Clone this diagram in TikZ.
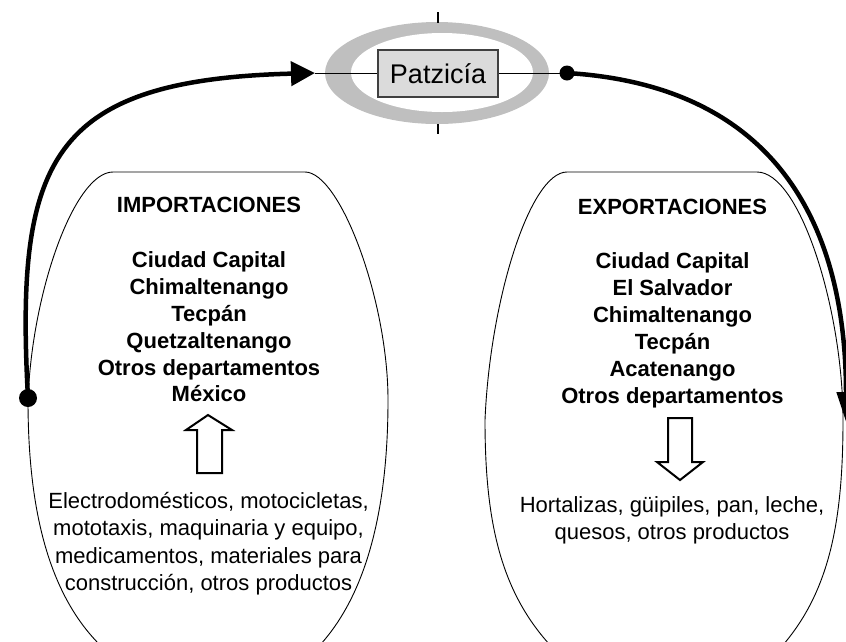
\documentclass[tikz,border=0pt]{standalone}
\usepackage{fontspec}
\setmainfont{Liberation Sans}
\usetikzlibrary{arrows.meta,shapes.geometric}
\begin{document}
\begin{tikzpicture}[x=1pt,y=-1pt,
  outline/.style={draw=black,line width=0.9pt},
  bold22/.style={font=\fontsize{22}{27}\selectfont\bfseries,anchor=base,inner sep=0pt},
  reg22/.style={font=\fontsize{22}{27}\selectfont,anchor=base,inner sep=0pt},
  thickarc/.style={line width=4.5pt,draw=black},
  hollow/.style={draw=black,line width=2pt,fill=white,line join=miter},
  dot/.style={circle,fill=black,inner sep=0pt}]
\useasboundingbox (0,0) rectangle (846,641);
% shapes
\draw[outline,fill=white] (113,172) -- (305,172)
  .. controls (340,172) and (388,300) .. (388,400)
  .. controls (388,500) and (370,590) .. (320,645)
  -- (100,645)
  .. controls (45,590) and (28,500) .. (28,400)
  .. controls (32,290) and (75,172) .. (113,172) -- cycle;
\draw[outline,fill=white] (567,172) -- (757,172)
  .. controls (800,172) and (843,310) .. (843,420)
  .. controls (843,520) and (830,590) .. (783,645)
  -- (550,645)
  .. controls (500,590) and (485,520) .. (485,420)
  .. controls (490,300) and (530,172) .. (567,172) -- cycle;
% Patzicia
\fill[gray!50] (437,73) ellipse [x radius=112, y radius=51];
\fill[white] (442,72.5) ellipse [x radius=91, y radius=39.5];
\coordinate (inarrow) at (315,73);
\coordinate (expdot) at (567,73);
\coordinate (tickAa) at (438,12);
\coordinate (tickAb) at (438,23);
\coordinate (tickBa) at (438,124);
\coordinate (tickBb) at (438,134);
\draw[line width=1pt] (inarrow) -- (expdot);
\draw[line width=1.8pt] (tickAa) -- (tickAb);
\draw[line width=1.8pt] (tickBa) -- (tickBb);
\node[draw=black!75,line width=1.5pt,fill=gray!28,minimum width=120pt,minimum height=47pt,inner sep=0pt,font=\fontsize{27}{30}\selectfont] (patz) at (438,73.5) {Patzicía};
% arcs
\coordinate (impdot) at (28,398);
\coordinate (outarrow) at (846,422);
\draw[thickarc,-{Triangle[length=24pt,width=24pt]}] (impdot) .. controls (15,160) and (50,80) .. (inarrow);
\draw[thickarc,-{Triangle[length=30pt,width=18pt]}] (expdot) .. controls (780,86) and (846,230) .. (outarrow);
\node[dot,minimum size=18pt] (d1) at (impdot) {};
\node[dot,minimum size=15pt] (d2) at (expdot) {};
% import texts
\node[bold22] (imph) at (209,212) {IMPORTACIONES};
\node[bold22] (imp1) at (209,267) {Ciudad Capital};
\node[bold22] (imp2) at (209,294) {Chimaltenango};
\node[bold22] (imp3) at (209,321) {Tecpán};
\node[bold22] (imp4) at (209,348) {Quetzaltenango};
\node[bold22] (imp5) at (209,375) {Otros departamentos};
\node[bold22] (imp6) at (209,401) {México};
\draw[hollow] (208,415) -- (232,430) -- (222,430) -- (222,473) -- (197,473) -- (197,430) -- (186,430) -- cycle;
\node[reg22] (impb1) at (208.5,508) {Electrodomésticos, motocicletas,};
\node[reg22] (impb2) at (208.5,535.5) {mototaxis, maquinaria y equipo,};
\node[reg22] (impb3) at (208.5,563) {medicamentos, materiales para};
\node[reg22] (impb4) at (208.5,590) {construcción, otros productos};
% export texts
\node[bold22] (exph) at (672.5,214) {EXPORTACIONES};
\node[bold22] (exp1) at (672.5,268) {Ciudad Capital};
\node[bold22] (exp2) at (672.5,295) {El Salvador};
\node[bold22] (exp3) at (672.5,322) {Chimaltenango};
\node[bold22] (exp4) at (672.5,349) {Tecpán};
\node[bold22] (exp5) at (672.5,376) {Acatenango};
\node[bold22] (exp6) at (672.5,403) {Otros departamentos};
\draw[hollow] (668,418) -- (692,418) -- (692,462) -- (703,462) -- (680,480) -- (657,462) -- (668,462) -- cycle;
\node[reg22] (expb1) at (672,512) {Hortalizas, güipiles, pan, leche,};
\node[reg22] (expb2) at (672,539) {quesos, otros productos};
\end{tikzpicture}
\end{document}
